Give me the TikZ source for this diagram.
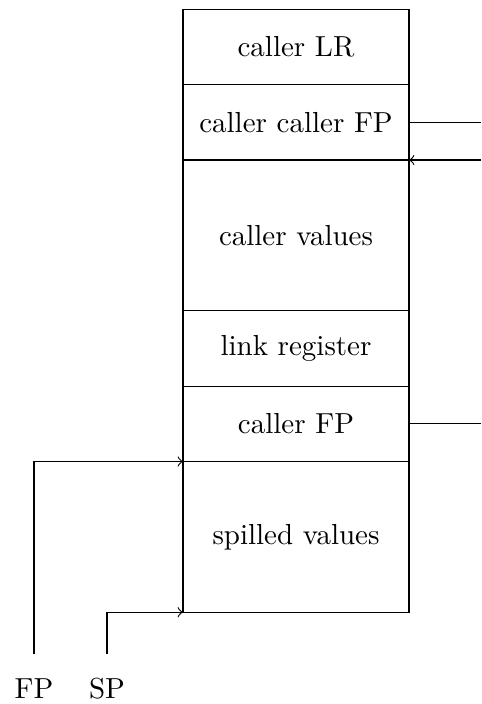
\documentclass[tikz,border=0pt]{standalone}
\usetikzlibrary{positioning}

\begin{document}
\begin{tikzpicture}[x=0.345pt,y=-0.345pt,node distance=0pt,->,>=to,
	cell/.style={rectangle,draw,minimum width=78pt,minimum height=26pt,inner sep=0pt,outer sep=0pt},
	big cell/.style={cell,minimum height=52pt},
	reg/.style={anchor=base,inner sep=0pt}]
	\useasboundingbox (0,0) rectangle (481,704);
	
	% the stack, top to bottom
	\node[cell] (lr) at (296,47) {caller LR};
	\node[cell] (ccfp) [below=of lr] {caller caller FP};
	\node[big cell] (vals) [below=of ccfp] {caller values};
	\node[cell] (link) [below=of vals] {link register};
	\node[cell] (cfp) [below=of link] {caller FP};
	\node[big cell] (spill) [below=of cfp] {spilled values};
	
	% registers
	\node[reg] (fp) at (34,698) {FP};
	\node[reg] (sp) at (107,698) {SP};
	
	\coordinate (edge) at (481,0);
	
	\path
	(ccfp.east) edge[-] (ccfp.east -| edge)
	(vals.north east -| edge) edge (vals.north east)
	(cfp.east) edge[-] (cfp.east -| edge);
	
	\draw ([yshift=8pt]fp.north) |- (spill.north west);
	\draw ([yshift=8pt]sp.north) |- (spill.south west);
\end{tikzpicture}
\end{document}
